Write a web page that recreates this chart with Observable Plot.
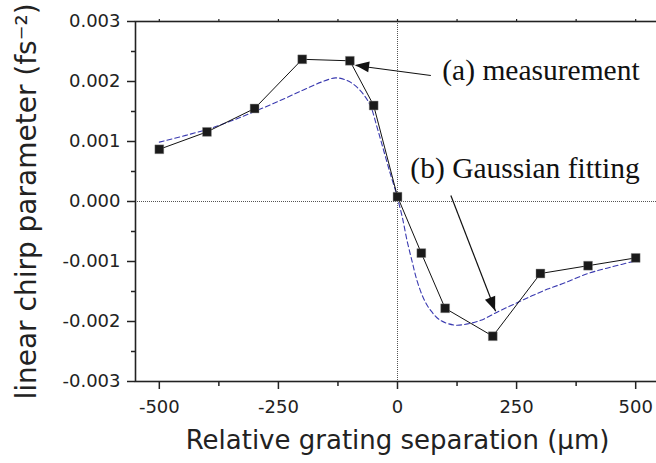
<!DOCTYPE html>
<html>
<head>
<meta charset="utf-8">
<script src="https://cdn.jsdelivr.net/npm/d3@7"></script>
<script src="https://cdn.jsdelivr.net/npm/@observablehq/plot@0.6"></script>
<style>
  html, body { margin: 0; padding: 0; background: #fff; overflow: hidden; }
  #chart { width: 656px; height: 463px; overflow: hidden; }
</style>
</head>
<body>
<div id="chart"></div>
<script>
// Measured linear chirp parameter vs. relative grating separation
const sepMeas = [-500, -400, -300, -200, -100, -50, 0, 50, 100, 200, 300, 400, 500];
const chirpMeas = [0.00087, 0.00116, 0.00155, 0.00237, 0.002345, 0.0016, 0.00008,
                   -0.00086, -0.00178, -0.002245, -0.0012, -0.00107, -0.00094];

// Gaussian fit curve, sampled
const sepFit = [-500, -400, -350, -300, -250, -200, -160, -130, -110, -90, -70, -57, -43, -29, -15, -3,
                0, 10, 20, 31, 41, 55, 70, 90, 120, 147, 175, 210, 245, 280, 315, 350, 400, 450, 500];
const chirpFit = [0.00099, 0.0012, 0.00134, 0.0015, 0.00167, 0.00185, 0.00199, 0.00206, 0.00203, 0.00194,
                  0.00177, 0.0016, 0.00124, 0.00085, 0.00046, 0.00015,
                  0.00006, -0.00026, -0.00065, -0.00101, -0.00132, -0.00162, -0.00182, -0.00198, -0.00206,
                  -0.00204, -0.00198, -0.00184, -0.00171, -0.00158, -0.00146, -0.00136, -0.0012, -0.00109, -0.00099];

// Axes
const xDomain = [-550, 550];
const yDomain = [-0.003, 0.003];
const xMajor = [-500, -250, 0, 250, 500];
const xMinor = [-375, -125, 125, 375];
const yMajor = [-0.003, -0.002, -0.001, 0, 0.001, 0.002, 0.003];
const yMinor = [-0.0025, -0.0015, -0.0005, 0.0005, 0.0015, 0.0025];
const xTitle = "Relative grating separation (μm)";
const yTitle = "linear chirp parameter (fs⁻²)";

// Annotations
const noteLabels = ["(a) measurement", "(b) Gaussian fitting"];
const noteX = [94, 27];
const noteY = [0.00202, 0.00039];
const arrowFromX = [70, 112];
const arrowFromY = [0.0021, 0.0001];
const arrowToX = [-88, 206];
const arrowToY = [0.002267, -0.00183];

const meas = sepMeas.map((x, i) => ({x, y: chirpMeas[i]}));
const fit = sepFit.map((x, i) => ({x, y: chirpFit[i]}));
const notes = noteLabels.map((label, i) => ({label, x: noteX[i], y: noteY[i]}));
const arrows = arrowFromX.map((x1, i) => ({x1, y1: arrowFromY[i], x2: arrowToX[i], y2: arrowToY[i]}));

const axisColor = "#222";
const sans = "DejaVu Sans";

const chart = Plot.plot({
  width: 660,
  height: 463,
  marginLeft: 135,
  marginRight: 1,
  marginTop: 21,
  marginBottom: 82,
  style: {fontFamily: sans, background: "#fff", overflow: "visible", maxWidth: "none"},
  x: {domain: xDomain},
  y: {domain: yDomain},
  marks: [
    // zero reference lines
    Plot.ruleY([0], {stroke: "#555", strokeWidth: 1, strokeDasharray: "1,1"}),
    Plot.ruleX([0], {stroke: "#555", strokeWidth: 1, strokeDasharray: "1,1"}),
    // fit
    Plot.line(fit, {x: "x", y: "y", curve: "catmull-rom", stroke: "#3a3ab0", strokeWidth: 1.1, strokeDasharray: "5,3"}),
    // measurement
    Plot.line(meas, {x: "x", y: "y", stroke: "#111", strokeWidth: 1}),
    Plot.dot(meas, {x: "x", y: "y", symbol: "square", r: 5, fill: "#1a1a1a", stroke: "#888", strokeWidth: 0.4}),
    // annotation arrows (shafts) and labels
    Plot.link(arrows, {x1: "x1", y1: "y1", x2: "x2", y2: "y2", stroke: "#111", strokeWidth: 1.2}),
    Plot.text(notes, {x: "x", y: "y", text: "label", textAnchor: "start", lineAnchor: "bottom",
      fontFamily: "Liberation Serif", fontSize: 29.5, fill: "#111"}),
    // axes frame and ticks
    Plot.frame({stroke: axisColor, strokeWidth: 1.6}),
    Plot.axisX(xMajor, {anchor: "bottom", tickSize: 8, tickPadding: 11, fontSize: 18, stroke: axisColor,
      strokeWidth: 1.5, fill: "#222", label: null, tickFormat: d => String(d)}),
    Plot.axisX(xMinor, {anchor: "bottom", tickSize: 5, stroke: axisColor, strokeWidth: 1.5, fill: "none", label: null}),
    Plot.axisX(xMajor.concat(xMinor), {anchor: "top", tickSize: 3, stroke: axisColor, strokeWidth: 1.2, fill: "none", label: null}),
    Plot.axisY(yMajor, {anchor: "left", tickSize: 8, tickPadding: 7, fontSize: 18, stroke: axisColor,
      strokeWidth: 1.5, fill: "#222", label: null, tickFormat: d => d.toFixed(3)}),
    Plot.axisY(yMinor, {anchor: "left", tickSize: 4, stroke: axisColor, strokeWidth: 1.5, fill: "none", label: null}),
    // axis titles
    Plot.text([xTitle], {frameAnchor: "bottom", dy: 67, lineAnchor: "bottom", fontSize: 26, fill: "#222"}),
    Plot.text([yTitle], {frameAnchor: "left", dx: -100, rotate: -90, textAnchor: "middle", lineAnchor: "bottom",
      fontSize: 28, fill: "#222"})
  ]
});

document.getElementById("chart").appendChild(chart);

// Filled arrowheads at the tip of each annotation arrow, placed with the plot's scales
const sx = chart.scale("x"), sy = chart.scale("y");
const svg = d3.select(chart);
const headLen = 14, headHalf = 5.5;
arrows.forEach(a => {
  const x1 = sx.apply(a.x1), y1 = sy.apply(a.y1), x2 = sx.apply(a.x2), y2 = sy.apply(a.y2);
  const ang = Math.atan2(y2 - y1, x2 - x1);
  const bx = x2 - headLen * Math.cos(ang), by = y2 - headLen * Math.sin(ang);
  const px = -Math.sin(ang) * headHalf, py = Math.cos(ang) * headHalf;
  svg.append("polygon")
    .attr("points", `${x2},${y2} ${bx + px},${by + py} ${bx - px},${by - py}`)
    .attr("fill", "#111");
});
</script>
</body>
</html>
